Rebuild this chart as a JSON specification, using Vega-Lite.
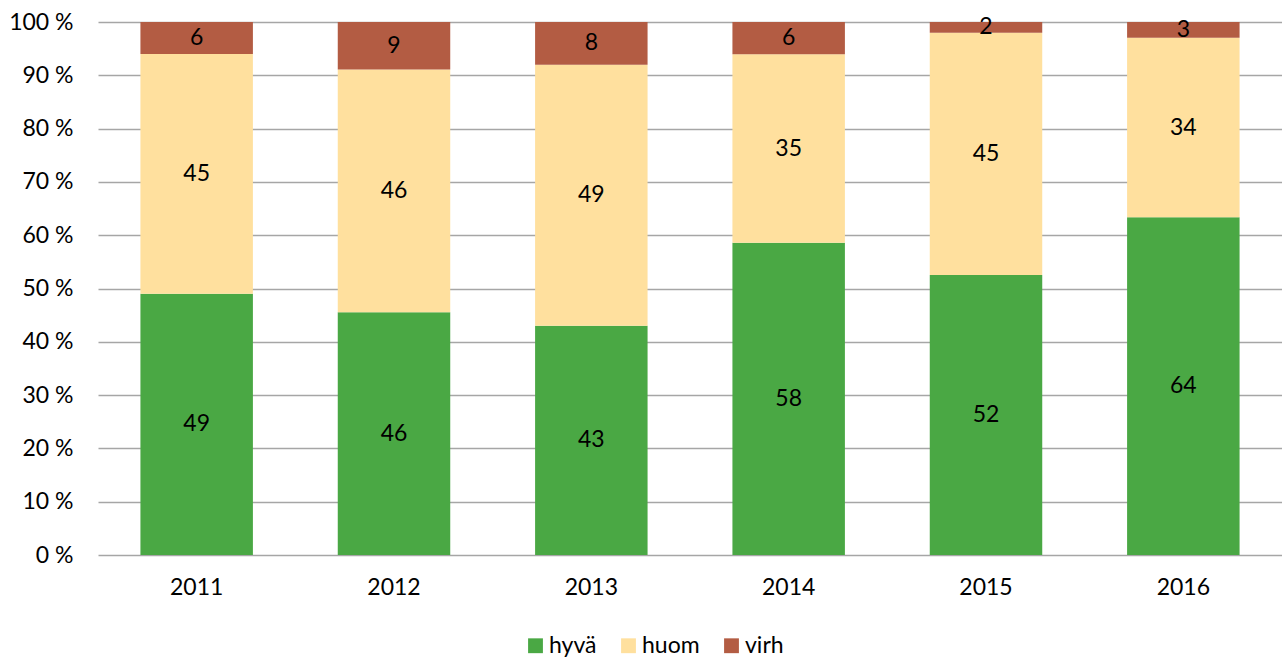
{
  "$schema": "https://vega.github.io/schema/vega-lite/v6.json",
  "width": 1184,
  "height": 533,
  "padding": {"left": 8, "top": 11, "right": 0, "bottom": 0},
  "background": "white",
  "config": {
    "view": {"stroke": null},
    "font": "Lato",
    "axis": {"labelFont": "Lato", "labelFontSize": 23, "labelColor": "#000000"}
  },
  "data": {
    "values": [
      {"year": "2011", "cat": "hyvä", "ord": 1, "value": 49},
      {"year": "2011", "cat": "huom", "ord": 2, "value": 45},
      {"year": "2011", "cat": "virh", "ord": 3, "value": 6},
      {"year": "2012", "cat": "hyvä", "ord": 1, "value": 46},
      {"year": "2012", "cat": "huom", "ord": 2, "value": 46},
      {"year": "2012", "cat": "virh", "ord": 3, "value": 9},
      {"year": "2013", "cat": "hyvä", "ord": 1, "value": 43},
      {"year": "2013", "cat": "huom", "ord": 2, "value": 49},
      {"year": "2013", "cat": "virh", "ord": 3, "value": 8},
      {"year": "2014", "cat": "hyvä", "ord": 1, "value": 58},
      {"year": "2014", "cat": "huom", "ord": 2, "value": 35},
      {"year": "2014", "cat": "virh", "ord": 3, "value": 6},
      {"year": "2015", "cat": "hyvä", "ord": 1, "value": 52},
      {"year": "2015", "cat": "huom", "ord": 2, "value": 45},
      {"year": "2015", "cat": "virh", "ord": 3, "value": 2},
      {"year": "2016", "cat": "hyvä", "ord": 1, "value": 64},
      {"year": "2016", "cat": "huom", "ord": 2, "value": 34},
      {"year": "2016", "cat": "virh", "ord": 3, "value": 3}
    ]
  },
  "encoding": {
    "x": {
      "field": "year", "type": "nominal", "title": null,
      "scale": {"paddingInner": 0.43, "paddingOuter": 0.215},
      "axis": {"labelAngle": 0, "domain": false, "ticks": false, "labelPadding": 21}
    }
  },
  "layer": [
    {
      "mark": {"type": "bar"},
      "encoding": {
        "y": {
          "field": "value", "type": "quantitative", "stack": "normalize", "title": null,
          "scale": {"domain": [0, 1]},
          "axis": {
            "values": [0, 0.1, 0.2, 0.3, 0.4, 0.5, 0.6, 0.7, 0.8, 0.9, 1],
            "labelExpr": "round(datum.value * 100) + ' %'",
            "domain": false, "ticks": false, "labelPadding": 25,
            "grid": true, "gridColor": "#A6A6A6", "gridWidth": 1.5
          }
        },
        "color": {
          "field": "cat", "type": "nominal", "title": null,
          "scale": {"domain": ["hyvä", "huom", "virh"], "range": ["#4AA844", "#FFE09E", "#B35C43"]},
          "legend": {
            "orient": "none", "legendX": 426, "legendY": 612, "direction": "horizontal", "symbolType": "square",
            "symbolSize": 220, "labelFontSize": 23, "labelFont": "Lato", "labelColor": "#000000",
            "columnPadding": 20, "symbolStrokeWidth": 0, "labelOffset": 2
          }
        },
        "order": {"field": "ord", "type": "quantitative"}
      }
    },
    {
      "mark": {"type": "text", "font": "Lato", "fontSize": 23, "color": "#000000", "baseline": "middle"},
      "encoding": {
        "y": {"field": "value", "type": "quantitative", "stack": "normalize", "bandPosition": 0.5},
        "detail": {"field": "cat"},
        "order": {"field": "ord", "type": "quantitative"},
        "text": {"field": "value", "type": "quantitative"}
      }
    }
  ]
}
